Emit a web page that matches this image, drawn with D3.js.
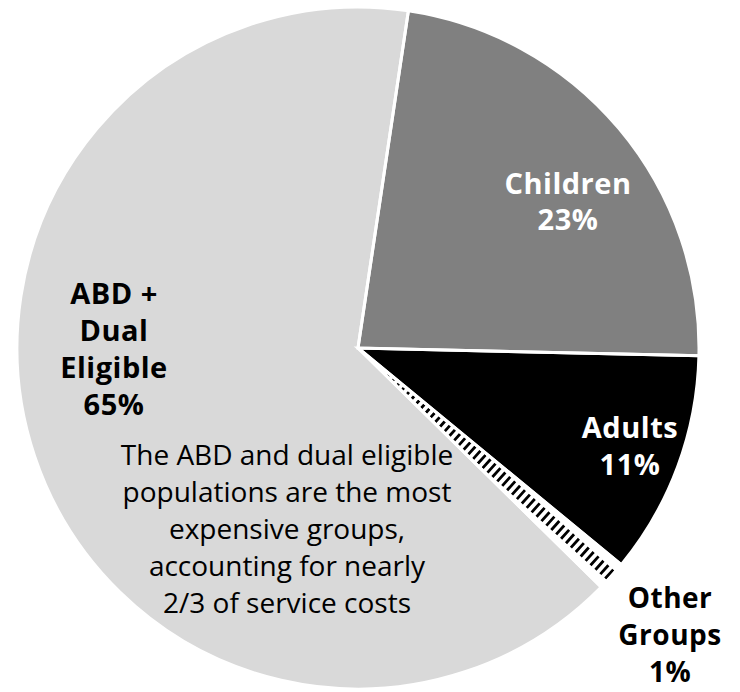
<!DOCTYPE html>
<html>
<head>
<meta charset="utf-8">
<script src="https://cdn.jsdelivr.net/npm/d3@7"></script>
<style>
  html, body { margin: 0; padding: 0; background: #fff; }
  svg { display: block; }
</style>
</head>
<body>
<svg id="chart" width="740" height="692"></svg>
<script>
// Share of service costs by eligibility group (percent)
const groups = ["Children", "Adults", "Other Groups", "ABD + Dual Eligible"];
const shares = [23, 10.6, 1.4, 65];
const nameLines = [
  ["Children"],
  ["Adults"],
  ["Other", "Groups"],
  ["ABD +", "Dual", "Eligible"]
];
const noteLines = [
  "The ABD and dual eligible",
  "populations are the most",
  "expensive groups,",
  "accounting for nearly",
  "2/3 of service costs"
];

const fills = ["#808080", "#000000", "#ffffff", "#d9d9d9"];
const textFills = ["#ffffff", "#ffffff", "#000000", "#000000"];
// label anchor points (x, first baseline, line gap, font size) in chart coordinates
const labelPos = [[568, 194, 36, 29], [630, 438, 37, 29], [670, 608, 37, 28], [114, 304, 37, 29]];

const svg = d3.select("#chart");
const cx = 358, cy = 348, R = 341;
const g = svg.append("g").attr("transform", `translate(${cx},${cy})`);

const start = 8.5 * Math.PI / 180;
const pie = d3.pie().sort(null).startAngle(start).endAngle(start + 2 * Math.PI);
const arcs = pie(shares);
const arc = d3.arc().innerRadius(0).outerRadius(R);

// slice fills
g.selectAll("path.slice")
  .data(arcs)
  .join("path")
  .attr("class", "slice")
  .attr("d", arc)
  .attr("fill", (d, i) => fills[i]);

// hatching for the small "Other Groups" slice
const other = arcs[2];
const defs = svg.append("defs");
defs.append("clipPath").attr("id", "otherClip")
  .append("path").attr("d", arc(other));
const mid = (other.startAngle + other.endAngle) / 2;
g.append("line")
  .attr("clip-path", "url(#otherClip)")
  .attr("x1", 0).attr("y1", 0)
  .attr("x2", Math.sin(mid) * R).attr("y2", -Math.cos(mid) * R)
  .attr("stroke", "#000")
  .attr("stroke-width", 12)
  .attr("stroke-dasharray", "2.8 3.8");

// white separators
g.selectAll("path.edge")
  .data(arcs)
  .join("path")
  .attr("class", "edge")
  .attr("d", arc)
  .attr("fill", "none")
  .attr("stroke", "#fff")
  .attr("stroke-width", 3)
  .attr("stroke-linejoin", "miter");

// category labels: name lines followed by the rounded share
const font = "'Open Sans', 'Lato', sans-serif";
nameLines.forEach((lines, i) => {
  const all = lines.concat([Math.round(shares[i]) + "%"]);
  const [lx, ly, gap, fs] = labelPos[i];
  const t = svg.append("text")
    .attr("x", lx).attr("y", ly)
    .attr("text-anchor", "middle")
    .attr("font-family", font)
    .attr("font-weight", 700)
    .attr("font-size", fs)
    .attr("letter-spacing", 0.5)
    .attr("fill", textFills[i]);
  all.forEach((s, k) => {
    t.append("tspan").attr("x", lx).attr("dy", k === 0 ? 0 : gap).text(s);
  });
});

// annotation
const note = svg.append("text")
  .attr("x", 287).attr("y", 465)
  .attr("text-anchor", "middle")
  .attr("font-family", font)
  .attr("font-size", 28)
  .attr("fill", "#000");
noteLines.forEach((s, k) => {
  note.append("tspan").attr("x", 287).attr("dy", k === 0 ? 0 : 37).text(s);
});
</script>
</body>
</html>
